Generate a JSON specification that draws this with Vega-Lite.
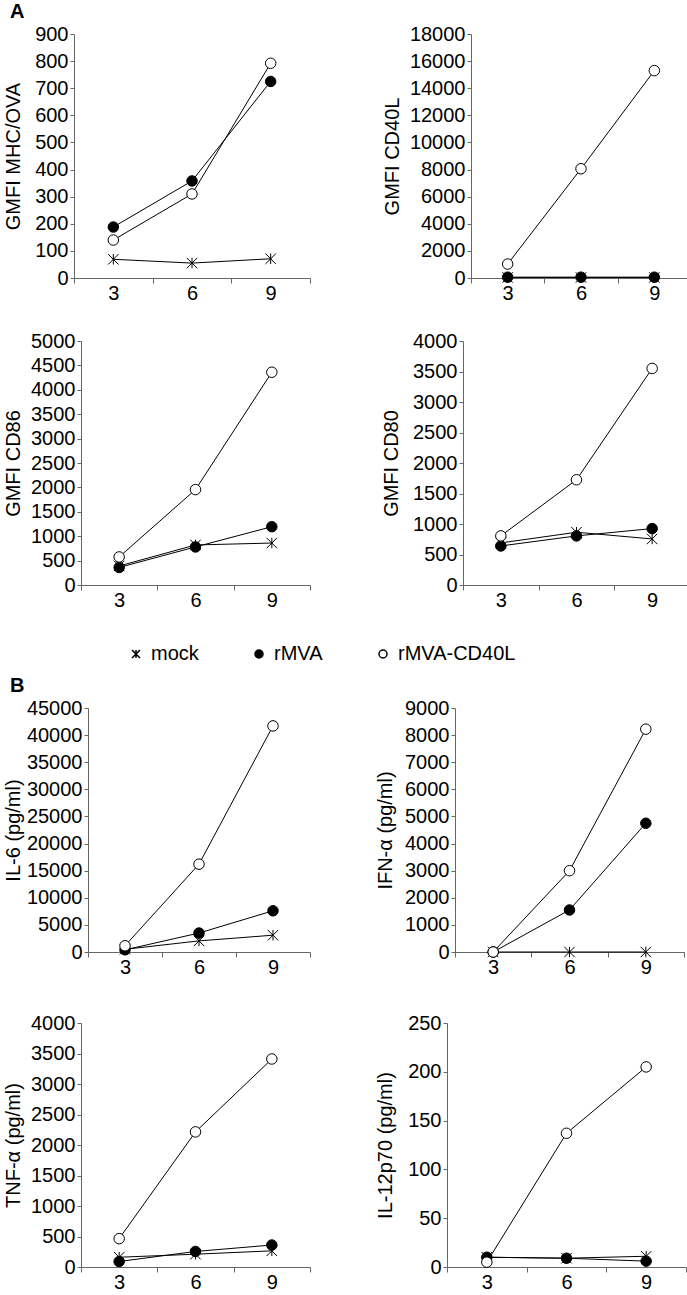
{
  "$schema": "https://vega.github.io/schema/vega-lite/v6.json",
  "background": "white",
  "padding": {"left": 2, "top": 2, "right": 0, "bottom": 0},
  "data": {
    "values": [
      {"p": "MHC", "day": 3, "g": "mock", "v": 69},
      {"p": "MHC", "day": 6, "g": "mock", "v": 55},
      {"p": "MHC", "day": 9, "g": "mock", "v": 71},
      {"p": "MHC", "day": 3, "g": "rMVA", "v": 188},
      {"p": "MHC", "day": 6, "g": "rMVA", "v": 358},
      {"p": "MHC", "day": 9, "g": "rMVA", "v": 725},
      {"p": "MHC", "day": 3, "g": "rMVA-CD40L", "v": 140},
      {"p": "MHC", "day": 6, "g": "rMVA-CD40L", "v": 310},
      {"p": "MHC", "day": 9, "g": "rMVA-CD40L", "v": 792},
      {"p": "CD40L", "day": 3, "g": "mock", "v": 40},
      {"p": "CD40L", "day": 6, "g": "mock", "v": 40},
      {"p": "CD40L", "day": 9, "g": "mock", "v": 40},
      {"p": "CD40L", "day": 3, "g": "rMVA", "v": 60},
      {"p": "CD40L", "day": 6, "g": "rMVA", "v": 60},
      {"p": "CD40L", "day": 9, "g": "rMVA", "v": 60},
      {"p": "CD40L", "day": 3, "g": "rMVA-CD40L", "v": 1030},
      {"p": "CD40L", "day": 6, "g": "rMVA-CD40L", "v": 8060},
      {"p": "CD40L", "day": 9, "g": "rMVA-CD40L", "v": 15300},
      {"p": "CD86", "day": 3, "g": "mock", "v": 390},
      {"p": "CD86", "day": 6, "g": "mock", "v": 820},
      {"p": "CD86", "day": 9, "g": "mock", "v": 860},
      {"p": "CD86", "day": 3, "g": "rMVA", "v": 360},
      {"p": "CD86", "day": 6, "g": "rMVA", "v": 780},
      {"p": "CD86", "day": 9, "g": "rMVA", "v": 1195},
      {"p": "CD86", "day": 3, "g": "rMVA-CD40L", "v": 575},
      {"p": "CD86", "day": 6, "g": "rMVA-CD40L", "v": 1955},
      {"p": "CD86", "day": 9, "g": "rMVA-CD40L", "v": 4360},
      {"p": "CD80", "day": 3, "g": "mock", "v": 690},
      {"p": "CD80", "day": 6, "g": "mock", "v": 865},
      {"p": "CD80", "day": 9, "g": "mock", "v": 755},
      {"p": "CD80", "day": 3, "g": "rMVA", "v": 640},
      {"p": "CD80", "day": 6, "g": "rMVA", "v": 805},
      {"p": "CD80", "day": 9, "g": "rMVA", "v": 925},
      {"p": "CD80", "day": 3, "g": "rMVA-CD40L", "v": 805},
      {"p": "CD80", "day": 6, "g": "rMVA-CD40L", "v": 1725},
      {"p": "CD80", "day": 9, "g": "rMVA-CD40L", "v": 3550},
      {"p": "IL6", "day": 3, "g": "mock", "v": 500},
      {"p": "IL6", "day": 6, "g": "mock", "v": 2050},
      {"p": "IL6", "day": 9, "g": "mock", "v": 3100},
      {"p": "IL6", "day": 3, "g": "rMVA", "v": 400},
      {"p": "IL6", "day": 6, "g": "rMVA", "v": 3500},
      {"p": "IL6", "day": 9, "g": "rMVA", "v": 7600},
      {"p": "IL6", "day": 3, "g": "rMVA-CD40L", "v": 1150},
      {"p": "IL6", "day": 6, "g": "rMVA-CD40L", "v": 16200},
      {"p": "IL6", "day": 9, "g": "rMVA-CD40L", "v": 41700},
      {"p": "IFN", "day": 3, "g": "mock", "v": 0},
      {"p": "IFN", "day": 6, "g": "mock", "v": 0},
      {"p": "IFN", "day": 9, "g": "mock", "v": 0},
      {"p": "IFN", "day": 3, "g": "rMVA", "v": 0},
      {"p": "IFN", "day": 6, "g": "rMVA", "v": 1550},
      {"p": "IFN", "day": 9, "g": "rMVA", "v": 4750},
      {"p": "IFN", "day": 3, "g": "rMVA-CD40L", "v": 0},
      {"p": "IFN", "day": 6, "g": "rMVA-CD40L", "v": 3000},
      {"p": "IFN", "day": 9, "g": "rMVA-CD40L", "v": 8220},
      {"p": "TNF", "day": 3, "g": "mock", "v": 160},
      {"p": "TNF", "day": 6, "g": "mock", "v": 210},
      {"p": "TNF", "day": 9, "g": "mock", "v": 265},
      {"p": "TNF", "day": 3, "g": "rMVA", "v": 90},
      {"p": "TNF", "day": 6, "g": "rMVA", "v": 255},
      {"p": "TNF", "day": 9, "g": "rMVA", "v": 360},
      {"p": "TNF", "day": 3, "g": "rMVA-CD40L", "v": 465},
      {"p": "TNF", "day": 6, "g": "rMVA-CD40L", "v": 2215},
      {"p": "TNF", "day": 9, "g": "rMVA-CD40L", "v": 3410},
      {"p": "IL12", "day": 3, "g": "mock", "v": 10},
      {"p": "IL12", "day": 6, "g": "mock", "v": 9},
      {"p": "IL12", "day": 9, "g": "mock", "v": 11},
      {"p": "IL12", "day": 3, "g": "rMVA", "v": 10},
      {"p": "IL12", "day": 6, "g": "rMVA", "v": 9},
      {"p": "IL12", "day": 9, "g": "rMVA", "v": 6},
      {"p": "IL12", "day": 3, "g": "rMVA-CD40L", "v": 5},
      {"p": "IL12", "day": 6, "g": "rMVA-CD40L", "v": 137},
      {"p": "IL12", "day": 9, "g": "rMVA-CD40L", "v": 205}
    ]
  },
  "spacing": 66,
  "vconcat": [
    {
      "title": "A",
      "columns": 2,
      "align": {"row": "all", "column": "none"},
      "spacing": {"row": 28, "column": 57},
      "concat": [
        {
          "width": 222, "height": 244,
          "transform": [{"filter": "datum.p == 'MHC'"}],
          "encoding": {
            "x": {"field": "day", "type": "ordinal", "scale": {"type": "band", "paddingInner": 0, "paddingOuter": 0, "range": [-14, 222]}, "bandPosition": 0.5, "axis": {"title": null}},
            "y": {"field": "v", "type": "quantitative", "scale": {"domain": [0, 900], "nice": false}, "axis": {"title": "GMFI MHC/OVA", "offset": 14, "titleX": -51, "values": [0, 100, 200, 300, 400, 500, 600, 700, 800, 900]}}
          },
          "layer": [
            {"mark": {"type": "line", "color": "black", "strokeWidth": 1}, "encoding": {"detail": {"field": "g"}}},
            {"mark": {"type": "point", "filled": true, "stroke": "black", "strokeWidth": 1, "size": 110, "opacity": 1},
             "encoding": {
               "shape": {"field": "g", "type": "nominal", "title": null, "scale": {"domain": ["mock", "rMVA", "rMVA-CD40L"], "range": ["M-1,-1L1,1M1,-1L-1,1M0,-1L0,1", "circle", "circle"]}, "legend": {"encode": {"symbols": {"update": {"stroke": {"value": "black"}, "strokeWidth": {"value": 1}}}}}},
               "fill": {"field": "g", "type": "nominal", "title": null, "scale": {"domain": ["mock", "rMVA", "rMVA-CD40L"], "range": ["black", "black", "white"]}, "legend": {"encode": {"symbols": {"update": {"stroke": {"value": "black"}, "strokeWidth": {"value": 1}}}}}}
             }}
          ]
        },
        {
          "width": 220, "height": 244,
          "transform": [{"filter": "datum.p == 'CD40L'"}],
          "encoding": {
            "x": {"field": "day", "type": "ordinal", "scale": {"type": "band", "paddingInner": 0, "paddingOuter": 0, "range": [0, 220]}, "bandPosition": 0.5, "axis": {"title": null}},
            "y": {"field": "v", "type": "quantitative", "scale": {"domain": [0, 18000], "nice": false}, "axis": {"title": "GMFI CD40L", "titleX": -69, "values": [0, 2000, 4000, 6000, 8000, 10000, 12000, 14000, 16000, 18000]}}
          },
          "layer": [
            {"mark": {"type": "line", "color": "black", "strokeWidth": 1}, "encoding": {"detail": {"field": "g"}}},
            {"mark": {"type": "point", "filled": true, "stroke": "black", "strokeWidth": 1, "size": 110, "opacity": 1},
             "encoding": {
               "shape": {"field": "g", "type": "nominal", "title": null, "scale": {"domain": ["mock", "rMVA", "rMVA-CD40L"], "range": ["M-1,-1L1,1M1,-1L-1,1M0,-1L0,1", "circle", "circle"]}, "legend": {"encode": {"symbols": {"update": {"stroke": {"value": "black"}, "strokeWidth": {"value": 1}}}}}},
               "fill": {"field": "g", "type": "nominal", "title": null, "scale": {"domain": ["mock", "rMVA", "rMVA-CD40L"], "range": ["black", "black", "white"]}, "legend": {"encode": {"symbols": {"update": {"stroke": {"value": "black"}, "strokeWidth": {"value": 1}}}}}}
             }}
          ]
        },
        {
          "width": 222, "height": 244,
          "transform": [{"filter": "datum.p == 'CD86'"}],
          "encoding": {
            "x": {"field": "day", "type": "ordinal", "scale": {"type": "band", "paddingInner": 0, "paddingOuter": 0, "range": [-7, 222]}, "bandPosition": 0.5, "axis": {"title": null}},
            "y": {"field": "v", "type": "quantitative", "scale": {"domain": [0, 5000], "nice": false}, "axis": {"title": "GMFI CD86", "offset": 7, "titleX": -58, "values": [0, 500, 1000, 1500, 2000, 2500, 3000, 3500, 4000, 4500, 5000]}}
          },
          "layer": [
            {"mark": {"type": "line", "color": "black", "strokeWidth": 1}, "encoding": {"detail": {"field": "g"}}},
            {"mark": {"type": "point", "filled": true, "stroke": "black", "strokeWidth": 1, "size": 110, "opacity": 1},
             "encoding": {
               "shape": {"field": "g", "type": "nominal", "title": null, "scale": {"domain": ["mock", "rMVA", "rMVA-CD40L"], "range": ["M-1,-1L1,1M1,-1L-1,1M0,-1L0,1", "circle", "circle"]}, "legend": {"encode": {"symbols": {"update": {"stroke": {"value": "black"}, "strokeWidth": {"value": 1}}}}}},
               "fill": {"field": "g", "type": "nominal", "title": null, "scale": {"domain": ["mock", "rMVA", "rMVA-CD40L"], "range": ["black", "black", "white"]}, "legend": {"encode": {"symbols": {"update": {"stroke": {"value": "black"}, "strokeWidth": {"value": 1}}}}}}
             }}
          ]
        },
        {
          "width": 220, "height": 244,
          "transform": [{"filter": "datum.p == 'CD80'"}],
          "encoding": {
            "x": {"field": "day", "type": "ordinal", "scale": {"type": "band", "paddingInner": 0, "paddingOuter": 0, "range": [-7, 220]}, "bandPosition": 0.5, "axis": {"title": null}},
            "y": {"field": "v", "type": "quantitative", "scale": {"domain": [0, 4000], "nice": false}, "axis": {"title": "GMFI CD80", "offset": 7, "titleX": -62, "values": [0, 500, 1000, 1500, 2000, 2500, 3000, 3500, 4000]}}
          },
          "layer": [
            {"mark": {"type": "line", "color": "black", "strokeWidth": 1}, "encoding": {"detail": {"field": "g"}}},
            {"mark": {"type": "point", "filled": true, "stroke": "black", "strokeWidth": 1, "size": 110, "opacity": 1},
             "encoding": {
               "shape": {"field": "g", "type": "nominal", "title": null, "scale": {"domain": ["mock", "rMVA", "rMVA-CD40L"], "range": ["M-1,-1L1,1M1,-1L-1,1M0,-1L0,1", "circle", "circle"]}, "legend": {"encode": {"symbols": {"update": {"stroke": {"value": "black"}, "strokeWidth": {"value": 1}}}}}},
               "fill": {"field": "g", "type": "nominal", "title": null, "scale": {"domain": ["mock", "rMVA", "rMVA-CD40L"], "range": ["black", "black", "white"]}, "legend": {"encode": {"symbols": {"update": {"stroke": {"value": "black"}, "strokeWidth": {"value": 1}}}}}}
             }}
          ]
        }
      ]
    },
    {
      "title": "B",
      "columns": 2,
      "align": {"row": "all", "column": "none"},
      "spacing": {"row": 36, "column": 57},
      "concat": [
        {
          "width": 222, "height": 244,
          "transform": [{"filter": "datum.p == 'IL6'"}],
          "encoding": {
            "x": {"field": "day", "type": "ordinal", "scale": {"type": "band", "paddingInner": 0, "paddingOuter": 0, "range": [0, 222]}, "bandPosition": 0.5, "axis": {"title": null}},
            "y": {"field": "v", "type": "quantitative", "scale": {"domain": [0, 45000], "nice": false}, "axis": {"title": "IL-6 (pg/ml)", "titleX": -65, "values": [0, 5000, 10000, 15000, 20000, 25000, 30000, 35000, 40000, 45000]}}
          },
          "layer": [
            {"mark": {"type": "line", "color": "black", "strokeWidth": 1}, "encoding": {"detail": {"field": "g"}}},
            {"mark": {"type": "point", "filled": true, "stroke": "black", "strokeWidth": 1, "size": 110, "opacity": 1},
             "encoding": {
               "shape": {"field": "g", "type": "nominal", "title": null, "scale": {"domain": ["mock", "rMVA", "rMVA-CD40L"], "range": ["M-1,-1L1,1M1,-1L-1,1M0,-1L0,1", "circle", "circle"]}, "legend": {"encode": {"symbols": {"update": {"stroke": {"value": "black"}, "strokeWidth": {"value": 1}}}}}},
               "fill": {"field": "g", "type": "nominal", "title": null, "scale": {"domain": ["mock", "rMVA", "rMVA-CD40L"], "range": ["black", "black", "white"]}, "legend": {"encode": {"symbols": {"update": {"stroke": {"value": "black"}, "strokeWidth": {"value": 1}}}}}}
             }}
          ]
        },
        {
          "width": 220, "height": 244,
          "transform": [{"filter": "datum.p == 'IFN'"}],
          "encoding": {
            "x": {"field": "day", "type": "ordinal", "scale": {"type": "band", "paddingInner": 0, "paddingOuter": 0, "range": [-9, 220]}, "bandPosition": 0.5, "axis": {"title": null}},
            "y": {"field": "v", "type": "quantitative", "scale": {"domain": [0, 9000], "nice": false}, "axis": {"title": "IFN-α (pg/ml)", "offset": 9, "titleX": -60, "values": [0, 1000, 2000, 3000, 4000, 5000, 6000, 7000, 8000, 9000]}}
          },
          "layer": [
            {"mark": {"type": "line", "color": "black", "strokeWidth": 1}, "encoding": {"detail": {"field": "g"}}},
            {"mark": {"type": "point", "filled": true, "stroke": "black", "strokeWidth": 1, "size": 110, "opacity": 1},
             "encoding": {
               "shape": {"field": "g", "type": "nominal", "title": null, "scale": {"domain": ["mock", "rMVA", "rMVA-CD40L"], "range": ["M-1,-1L1,1M1,-1L-1,1M0,-1L0,1", "circle", "circle"]}, "legend": {"encode": {"symbols": {"update": {"stroke": {"value": "black"}, "strokeWidth": {"value": 1}}}}}},
               "fill": {"field": "g", "type": "nominal", "title": null, "scale": {"domain": ["mock", "rMVA", "rMVA-CD40L"], "range": ["black", "black", "white"]}, "legend": {"encode": {"symbols": {"update": {"stroke": {"value": "black"}, "strokeWidth": {"value": 1}}}}}}
             }}
          ]
        },
        {
          "width": 222, "height": 244,
          "transform": [{"filter": "datum.p == 'TNF'"}],
          "encoding": {
            "x": {"field": "day", "type": "ordinal", "scale": {"type": "band", "paddingInner": 0, "paddingOuter": 0, "range": [-7, 222]}, "bandPosition": 0.5, "axis": {"title": null}},
            "y": {"field": "v", "type": "quantitative", "scale": {"domain": [0, 4000], "nice": false}, "axis": {"title": "TNF-α (pg/ml)", "offset": 7, "titleX": -58, "values": [0, 500, 1000, 1500, 2000, 2500, 3000, 3500, 4000]}}
          },
          "layer": [
            {"mark": {"type": "line", "color": "black", "strokeWidth": 1}, "encoding": {"detail": {"field": "g"}}},
            {"mark": {"type": "point", "filled": true, "stroke": "black", "strokeWidth": 1, "size": 110, "opacity": 1},
             "encoding": {
               "shape": {"field": "g", "type": "nominal", "title": null, "scale": {"domain": ["mock", "rMVA", "rMVA-CD40L"], "range": ["M-1,-1L1,1M1,-1L-1,1M0,-1L0,1", "circle", "circle"]}, "legend": {"encode": {"symbols": {"update": {"stroke": {"value": "black"}, "strokeWidth": {"value": 1}}}}}},
               "fill": {"field": "g", "type": "nominal", "title": null, "scale": {"domain": ["mock", "rMVA", "rMVA-CD40L"], "range": ["black", "black", "white"]}, "legend": {"encode": {"symbols": {"update": {"stroke": {"value": "black"}, "strokeWidth": {"value": 1}}}}}}
             }}
          ]
        },
        {
          "width": 218, "height": 244,
          "transform": [{"filter": "datum.p == 'IL12'"}],
          "encoding": {
            "x": {"field": "day", "type": "ordinal", "scale": {"type": "band", "paddingInner": 0, "paddingOuter": 0, "range": [-21, 218]}, "bandPosition": 0.5, "axis": {"title": null}},
            "y": {"field": "v", "type": "quantitative", "scale": {"domain": [0, 250], "nice": false}, "axis": {"title": "IL-12p70 (pg/ml)", "offset": 21, "titleX": -52, "values": [0, 50, 100, 150, 200, 250]}}
          },
          "layer": [
            {"mark": {"type": "line", "color": "black", "strokeWidth": 1}, "encoding": {"detail": {"field": "g"}}},
            {"mark": {"type": "point", "filled": true, "stroke": "black", "strokeWidth": 1, "size": 110, "opacity": 1},
             "encoding": {
               "shape": {"field": "g", "type": "nominal", "title": null, "scale": {"domain": ["mock", "rMVA", "rMVA-CD40L"], "range": ["M-1,-1L1,1M1,-1L-1,1M0,-1L0,1", "circle", "circle"]}, "legend": {"encode": {"symbols": {"update": {"stroke": {"value": "black"}, "strokeWidth": {"value": 1}}}}}},
               "fill": {"field": "g", "type": "nominal", "title": null, "scale": {"domain": ["mock", "rMVA", "rMVA-CD40L"], "range": ["black", "black", "white"]}, "legend": {"encode": {"symbols": {"update": {"stroke": {"value": "black"}, "strokeWidth": {"value": 1}}}}}}
             }}
          ]
        }
      ]
    }
  ],
  "config": {
    "view": {"stroke": null},
    "font": "Liberation Sans",
    "title": {"anchor": "start", "font": "Liberation Sans", "fontSize": 20, "fontWeight": "bold", "color": "#000000", "offset": 2, "dx": 7},
    "axis": {
      "labelFont": "Liberation Sans", "labelFontSize": 20, "labelColor": "#000000",
      "titleFont": "Liberation Sans", "titleFontSize": 20, "titleFontWeight": "normal", "titleColor": "#000000",
      "domainColor": "#666666", "tickColor": "#666666", "grid": false, "labelOverlap": false
    },
    "axisY": {"tickSize": 4, "labelPadding": 2, "labelFlush": false, "format": "d"},
    "axisX": {"tickSize": 5, "labelPadding": 0, "labelAngle": 0, "tickBand": "extent"},
    "legend": {
      "orient": "none", "legendX": 38, "legendY": 610, "direction": "horizontal",
      "labelFont": "Liberation Sans", "labelFontSize": 20, "labelColor": "#000000",
      "symbolSize": 64, "columnPadding": 50, "labelOffset": 5
    }
  }
}
